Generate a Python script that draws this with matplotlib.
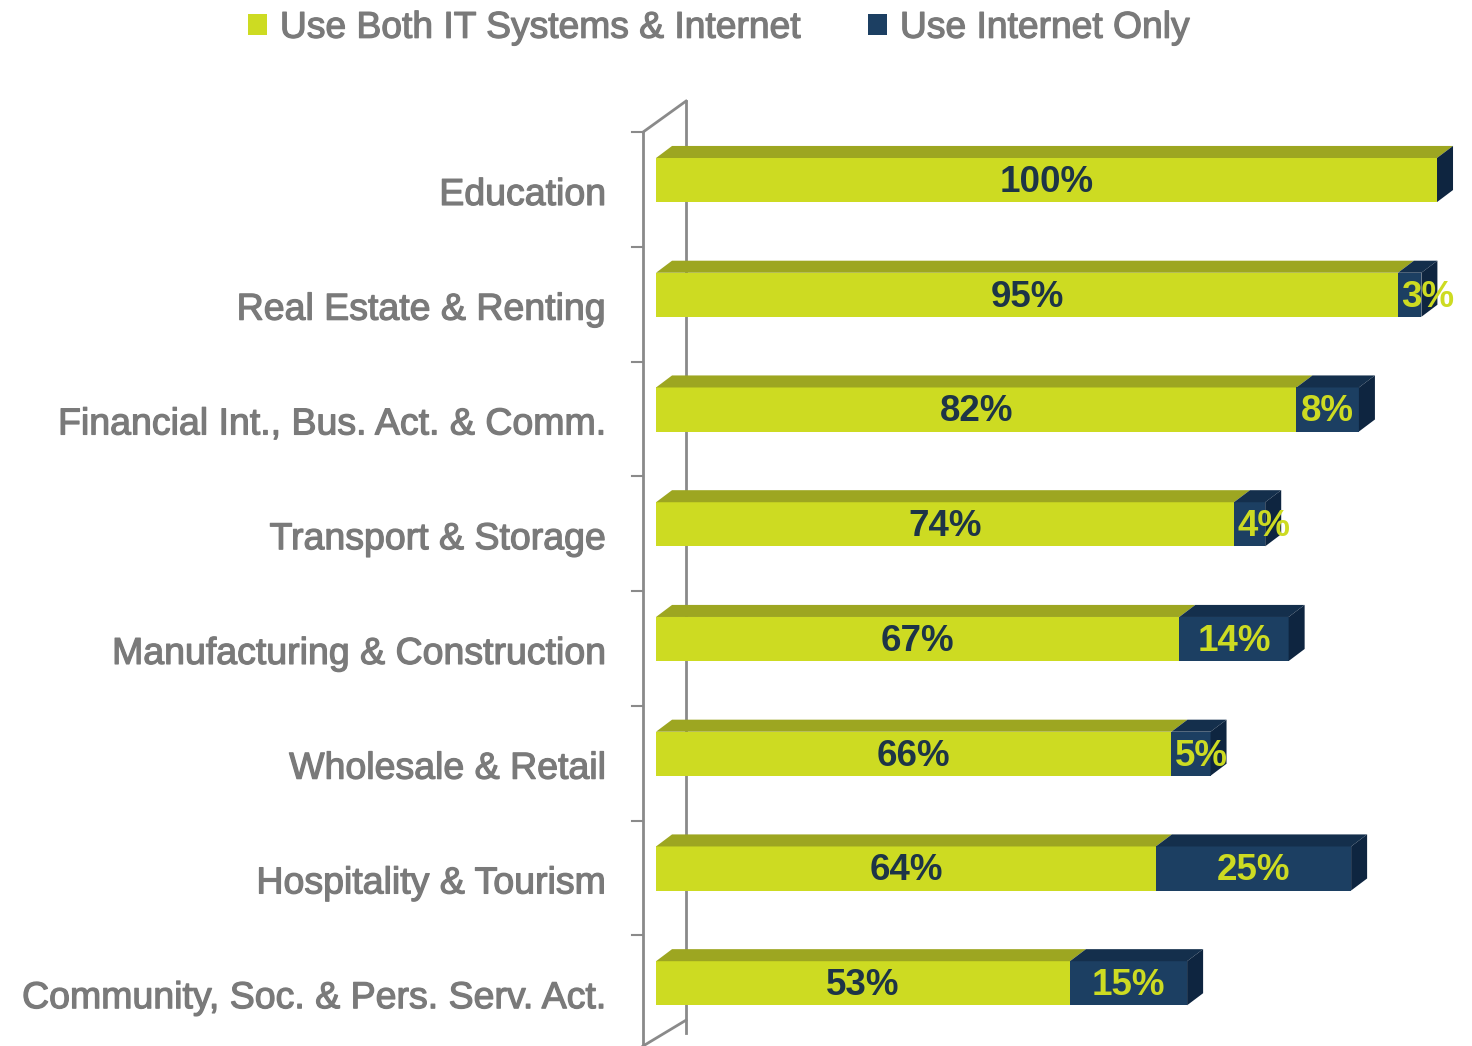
import matplotlib.pyplot as plt
import matplotlib.patheffects as pe
from matplotlib.patches import Polygon, Patch

plt.rcParams['font.family'] = ['Liberation Sans', 'DejaVu Sans']

categories = [
    "Education",
    "Real Estate & Renting",
    "Financial Int., Bus. Act. & Comm.",
    "Transport & Storage",
    "Manufacturing & Construction",
    "Wholesale & Retail",
    "Hospitality & Tourism",
    "Community, Soc. & Pers. Serv. Act.",
]
both_it_internet = [100, 95, 82, 74, 67, 66, 64, 53]
internet_only = [0, 3, 8, 4, 14, 5, 25, 15]
series_names = ["Use Both IT Systems & Internet", "Use Internet Only"]

GREEN = "#cddb22"
GREEN_TOP = "#9da621"
NAVY = "#1c3f62"
NAVY_TOP = "#142f4c"
NAVY_SIDE = "#0e2540"
TEXT_GRAY = "#7a7a7a"
LABEL_DARK = "#1d3447"
WALL = "#8a8a8a"

# 3D look: depth offset of the bar boxes and of the category wall
DX, DY = 2.05, 0.105
HALF_H = 0.192
WALL_X0, WALL_X1 = -1.66, 3.84
WALL_DY = 0.27

heavy_gray = [pe.withStroke(linewidth=0.9, foreground=TEXT_GRAY)]

fig = plt.figure(figsize=(14.72, 10.46), dpi=100)
ax = fig.add_axes([0, 0, 1, 1])
ax.set_xlim(-84.0, 104.48)
ax.set_ylim(7.547, -1.569)
ax.axis("off")

# category wall (front edge, back edge, top and bottom slants) plus ticks
ax.plot([WALL_X0, WALL_X0], [-0.418, 7.7], color=WALL, lw=2, zorder=1)
ax.plot([WALL_X1, WALL_X1], [-0.418 - WALL_DY, 7.7 - WALL_DY], color=WALL, lw=2, zorder=1)
ax.plot([WALL_X0, WALL_X1], [-0.418, -0.418 - WALL_DY], color=WALL, lw=2, zorder=1)
ax.plot([WALL_X0, WALL_X1], [7.547, 7.547 - 0.225], color=WALL, lw=2, zorder=1)
for k in range(len(categories) + 1):
    yk = k - 0.418
    ax.plot([WALL_X0 - 1.4, WALL_X0], [yk, yk], color=WALL, lw=1.5, zorder=1)


def box(x0, x1, yc, front, top):
    yt, yb = yc - HALF_H, yc + HALF_H
    ax.add_patch(Polygon([(x0, yb), (x1, yb), (x1, yt), (x0, yt)],
                         closed=True, facecolor=front, edgecolor="none", zorder=3))
    ax.add_patch(Polygon([(x0, yt), (x1, yt), (x1 + DX, yt - DY), (x0 + DX, yt - DY)],
                         closed=True, facecolor=top, edgecolor="none", zorder=3))


for i, (cat, g, b) in enumerate(zip(categories, both_it_internet, internet_only)):
    box(0, g, i, GREEN, GREEN_TOP)
    if b > 0:
        box(g, g + b, i, NAVY, NAVY_TOP)
    end = g + b
    yt, yb = i - HALF_H, i + HALF_H
    ax.add_patch(Polygon([(end, yt), (end + DX, yt - DY), (end + DX, yb - DY), (end, yb)],
                         closed=True, facecolor=NAVY_SIDE, edgecolor="none", zorder=3))

    ax.text(-6.4, i + 0.13, cat, ha="right", va="center", fontsize=27,
            color=TEXT_GRAY, path_effects=heavy_gray, zorder=4)
    ax.text(g / 2, i + 0.02, f"{g}%", ha="center", va="center", fontsize=26.5,
            fontweight="bold", color=LABEL_DARK, zorder=4)
    if b > 0:
        xb = max(g + b / 2, g + 3.8)
        ax.text(xb, i + 0.02, f"{b}%", ha="center", va="center", fontsize=26.5,
                fontweight="bold", color=GREEN, zorder=4)

handles = [Patch(facecolor=GREEN, edgecolor="none"), Patch(facecolor=NAVY, edgecolor="none")]
leg = fig.legend(handles, series_names, loc="center", bbox_to_anchor=(0.4885, 0.973),
                 ncol=2, frameon=False, fontsize=26.8, handlelength=0.5, handleheight=0.5,
                 handletextpad=0.35, columnspacing=1.8, borderpad=0)
for t in leg.get_texts():
    t.set_color(TEXT_GRAY)
    t.set_path_effects(heavy_gray)

fig.savefig("out.png", dpi=100, facecolor="white")
